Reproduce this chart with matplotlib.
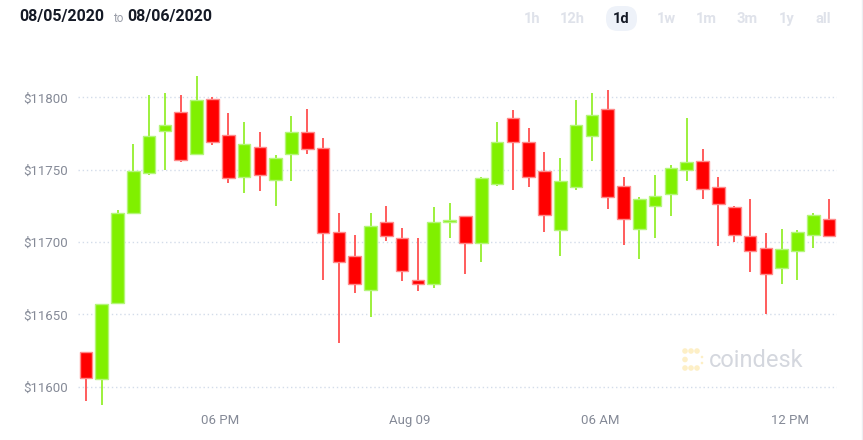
import matplotlib
matplotlib.use("Agg")
import matplotlib.pyplot as plt
from matplotlib.patches import FancyBboxPatch, Circle
from matplotlib.transforms import IdentityTransform
from matplotlib.lines import Line2D

plt.rcParams['font.family'] = ['Roboto', 'DejaVu Sans']

# ---- data (30-minute candles) ----
opens  = [11624, 11605, 11658, 11720, 11748, 11777, 11790, 11761, 11799, 11774,
          11745, 11766, 11743, 11761, 11776, 11765, 11707, 11690, 11667, 11714,
          11703, 11674, 11671, 11714, 11718, 11699, 11740, 11786, 11769, 11749,
          11708, 11738, 11773, 11792, 11739, 11709, 11725, 11733, 11750, 11756,
          11738, 11724, 11704, 11696, 11682, 11694, 11705, 11716]
highs  = [11624, 11657, 11722, 11768, 11802, 11803, 11802, 11815, 11800, 11789,
          11783, 11776, 11760, 11787, 11792, 11772, 11720, 11705, 11720, 11725,
          11710, 11703, 11724, 11727, 11718, 11745, 11783, 11791, 11779, 11762,
          11758, 11798, 11803, 11805, 11745, 11731, 11746, 11753, 11786, 11764,
          11745, 11725, 11730, 11706, 11709, 11708, 11720, 11730]
lows   = [11590, 11587, 11658, 11720, 11746, 11750, 11755, 11760, 11767, 11741,
          11734, 11735, 11725, 11742, 11761, 11674, 11630, 11665, 11648, 11701,
          11673, 11666, 11668, 11703, 11678, 11686, 11739, 11736, 11738, 11707,
          11690, 11736, 11756, 11723, 11698, 11688, 11703, 11718, 11742, 11730,
          11697, 11700, 11679, 11650, 11671, 11674, 11696, 11704]
closes = [11606, 11657, 11720, 11749, 11773, 11781, 11757, 11798, 11769, 11744,
          11768, 11746, 11758, 11776, 11764, 11706, 11686, 11671, 11711, 11704,
          11680, 11671, 11714, 11715, 11699, 11744, 11769, 11769, 11745, 11719,
          11742, 11781, 11788, 11731, 11716, 11730, 11732, 11751, 11755, 11737,
          11726, 11705, 11694, 11678, 11695, 11707, 11719, 11704]

ytick_values = [11600, 11650, 11700, 11750, 11800]
ytick_labels = ['$11600', '$11650', '$11700', '$11750', '$11800']
xtick_positions = [8.5, 20.5, 32.5, 44.5]
xtick_labels = ['06 PM', 'Aug 09', '06 AM', '12 PM']
ranges = ['1h', '12h', '1d', '1w', '1m', '3m', '1y', 'all']

W, H = 863, 440
fig = plt.figure(figsize=(W / 100, H / 100), dpi=100)
fig.patch.set_facecolor('white')

ax = fig.add_axes([78 / W, (H - 406) / H, (837 - 78) / W, (406 - 65) / H])
ax.set_facecolor('white')

GREEN = '#80f000'
GREEN_EDGE = '#b4f57a'
GREEN_WICK = '#9cf03c'
RED = '#ff0000'
RED_EDGE = '#ff8a8a'
RED_WICK = '#ff5c5c'

for i, (o, h, l, c) in enumerate(zip(opens, highs, lows, closes)):
    up = c >= o
    wc = GREEN_WICK if up else RED_WICK
    ax.vlines(i, l, h, color=wc, lw=1.4, zorder=2)
    lo, hi = min(o, c), max(o, c)
    ax.bar(i, max(hi - lo, 0.8), bottom=lo, width=0.8,
           color=GREEN if up else RED,
           edgecolor=GREEN_EDGE if up else RED_EDGE, linewidth=1.0, zorder=3)

ax.set_xlim(-0.5, 47.5)
ax.set_ylim(11586.6, 11822.4)
ax.set_yticks(ytick_values)
ax.set_yticklabels(ytick_labels)
ax.set_xticks(xtick_positions)
ax.set_xticklabels(xtick_labels)
ax.tick_params(axis='both', length=0, labelsize=9.5, labelcolor='#858a97')
ax.tick_params(axis='y', pad=7)
ax.tick_params(axis='x', pad=6)
for sp in ax.spines.values():
    sp.set_visible(False)
ax.yaxis.grid(True, color='#d3dcea', linestyle=(0, (1, 2)), linewidth=1.0)
ax.set_axisbelow(True)

# ---- header ----
fig.text(19 / W, 1 - 17 / H, '08/05/2020', fontsize=11.5, fontweight='bold',
         color='#151a26', va='center', ha='left')
fig.text(113 / W, 1 - 18 / H, 'to', fontsize=8.5, color='#9a9ea9',
         va='center', ha='left')
fig.text(127 / W, 1 - 17 / H, '08/06/2020', fontsize=11.5, fontweight='bold',
         color='#151a26', va='center', ha='left')

btn_x = [532, 572, 621, 666, 706, 747, 787, 823]
box = FancyBboxPatch((606, H - 31), 31, 25,
                     boxstyle='round,pad=0,rounding_size=12',
                     transform=IdentityTransform(), facecolor='#eef2f9',
                     edgecolor='none')
fig.add_artist(box)
for lab, bx in zip(ranges, btn_x):
    fig.text(bx / W, 1 - 19 / H, lab, fontsize=10.5, fontweight='bold',
             color='#151a26' if lab == '1d' else '#dfe2ea',
             ha='center', va='center')

# ---- watermark ----
logo_col = '#fdefc6'
for (cx, cy, r) in [(685, 351, 2.8), (691, 351, 2.8), (697, 351, 2.8),
                    (685, 359.5, 2.8), (685, 368, 2.8), (691, 368, 2.8),
                    (697, 368, 2.8), (702, 357, 1.3), (702, 363, 1.3)]:
    fig.add_artist(Circle((cx, H - cy), r, transform=IdentityTransform(),
                          facecolor=logo_col, edgecolor='none'))
fig.text(709 / W, 1 - 360 / H, 'coindesk', fontsize=17, color='#d4d7de',
         ha='left', va='center')

# right border
fig.add_artist(Line2D([862 / W, 862 / W], [0, 1], color='#eceef2', lw=1,
                      transform=fig.transFigure))

fig.savefig('out.png', dpi=100)
